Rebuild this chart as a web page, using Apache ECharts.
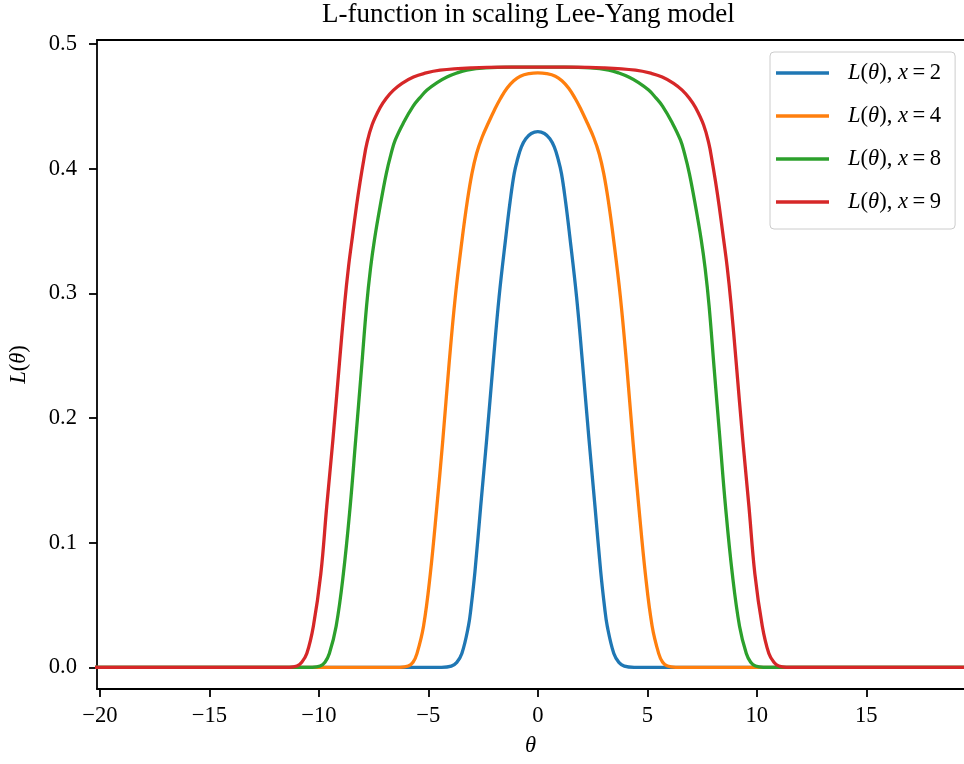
<!DOCTYPE html>
<html><head><meta charset="utf-8">
<script src="https://cdn.jsdelivr.net/npm/echarts@6/dist/echarts.min.js"></script>
<style>html,body{margin:0;padding:0;background:#fff}#c{width:964px;height:764px}</style>
</head><body><div id="c"></div>
<script>
// ---- data ----
const seriesNames = ['x=2', 'x=4', 'x=8', 'x=9'];
const seriesColors = ['#1f77b4', '#ff7f0e', '#2ca02c', '#d62728'];

const thetaX2 = [-20.5, -4.4, -3.95, -3.70, -3.47, -3.17, -3.05, -2.87, -2.61, -2.33, -2.04, -1.77, -1.45, -1.27, -1.08, -0.92, -0.75, -0.55, -0.3, 0,
                 0.3, 0.55, 0.75, 0.92, 1.08, 1.27, 1.45, 1.77, 2.04, 2.33, 2.61, 2.87, 3.05, 3.17, 3.47, 3.70, 3.95, 4.4, 20.5];
const valueX2 = [0, 0, 0.001, 0.004, 0.011, 0.033, 0.048, 0.077, 0.129, 0.184, 0.244, 0.297, 0.347, 0.373, 0.396, 0.408, 0.4175, 0.4240, 0.4282, 0.4297,
                 0.4282, 0.4240, 0.4175, 0.408, 0.396, 0.373, 0.347, 0.297, 0.244, 0.184, 0.129, 0.077, 0.048, 0.033, 0.011, 0.004, 0.001, 0, 0];

const thetaX4 = [-20.5, -6.3, -5.92, -5.70, -5.52, -5.22, -4.91, -4.61, -4.34, -4.05, -3.77, -3.46, -3.22, -3.01, -2.80, -2.55, -2.25, -1.97, -1.70, -1.41, -1.10, -0.8, -0.4, 0,
                 0.4, 0.8, 1.10, 1.41, 1.70, 1.97, 2.25, 2.55, 2.80, 3.01, 3.22, 3.46, 3.77, 4.05, 4.34, 4.61, 4.91, 5.22, 5.52, 5.70, 5.92, 6.3, 20.5];
const valueX4 = [0, 0, 0.001, 0.004, 0.011, 0.033, 0.075, 0.129, 0.182, 0.244, 0.297, 0.343, 0.374, 0.396, 0.412, 0.425, 0.437, 0.4475, 0.4565, 0.4645, 0.4705, 0.4742, 0.4762, 0.4768,
                 0.4762, 0.4742, 0.4705, 0.4645, 0.4565, 0.4475, 0.437, 0.425, 0.412, 0.396, 0.374, 0.343, 0.297, 0.244, 0.182, 0.129, 0.075, 0.033, 0.011, 0.004, 0.001, 0, 0];

const thetaX8 = [-20.5, -10.3, -9.94, -9.72, -9.52, -9.21, -8.88, -8.57, -8.32, -8.05, -7.82, -7.64, -7.46, -7.20, -6.92, -6.70, -6.51, -6.13, -5.70, -5.38, -5.06, -4.6, -4.15, -3.7, -3.24, -2.4, -1.2, 0,
                 1.2, 2.4, 3.24, 3.7, 4.15, 4.6, 5.06, 5.38, 5.70, 6.13, 6.51, 6.70, 6.92, 7.20, 7.46, 7.64, 7.82, 8.05, 8.32, 8.57, 8.88, 9.21, 9.52, 9.72, 9.94, 10.3, 20.5];
const valueX8 = [0, 0, 0.001, 0.004, 0.011, 0.033, 0.075, 0.129, 0.182, 0.240, 0.290, 0.320, 0.343, 0.370, 0.396, 0.412, 0.423, 0.437, 0.450, 0.457, 0.463, 0.469, 0.4735, 0.4767, 0.4790, 0.4808, 0.4814, 0.4814,
                 0.4814, 0.4808, 0.4790, 0.4767, 0.4735, 0.469, 0.463, 0.457, 0.450, 0.437, 0.423, 0.412, 0.396, 0.370, 0.343, 0.320, 0.290, 0.240, 0.182, 0.129, 0.075, 0.033, 0.011, 0.004, 0.001, 0, 0];

const thetaX9 = [-20.5, -11.35, -11.0, -10.78, -10.55, -10.25, -9.91, -9.64, -9.36, -9.06, -8.82, -8.64, -8.47, -8.28, -8.11, -7.95, -7.81, -7.57, -7.20, -6.92, -6.59, -6.2, -5.68, -5.21, -4.46, -3.0, -1.5, 0,
                 1.5, 3.0, 4.46, 5.21, 5.68, 6.2, 6.59, 6.92, 7.20, 7.57, 7.81, 7.95, 8.11, 8.28, 8.47, 8.64, 8.82, 9.06, 9.36, 9.64, 9.91, 10.25, 10.55, 10.78, 11.0, 11.35, 20.5];
const valueX9 = [0, 0, 0.001, 0.004, 0.011, 0.033, 0.075, 0.129, 0.182, 0.244, 0.292, 0.322, 0.345, 0.370, 0.390, 0.407, 0.420, 0.435, 0.449, 0.4565, 0.4630, 0.4685, 0.4735, 0.4763, 0.4790, 0.4809, 0.4814, 0.4814,
                 0.4814, 0.4809, 0.4790, 0.4763, 0.4735, 0.4685, 0.4630, 0.4565, 0.449, 0.435, 0.420, 0.407, 0.390, 0.370, 0.345, 0.322, 0.292, 0.244, 0.182, 0.129, 0.075, 0.033, 0.011, 0.004, 0.001, 0, 0];

const xTickValues = [-20, -15, -10, -5, 0, 5, 10, 15];
const yTickValues = [0, 0.1, 0.2, 0.3, 0.4, 0.5];
const xRange = [-20.13, 19.46];
const yRange = [-0.0174, 0.5032];

// ---- chart ----
const thetas = [thetaX2, thetaX4, thetaX8, thetaX9];
const values = [valueX2, valueX4, valueX8, valueX9];
const FONT = 'Liberation Serif';
const FS = 22.6;

const chart = echarts.init(document.getElementById('c'), null, {renderer: 'canvas'});

const series = seriesNames.map((name, i) => ({
  name: name,
  type: 'line',
  data: thetas[i].map((t, k) => [t, values[i][k]]),
  symbol: 'none',
  showSymbol: false,
  smooth: 0.4,
  clip: true,
  color: seriesColors[i],
  lineStyle: {width: 3.3, color: seriesColors[i], cap: 'round', join: 'round'},
  z: 2 + i
}));

const axisBlack = {lineStyle: {color: '#000', width: 1.8}};

chart.setOption({
  animation: false,
  backgroundColor: '#fff',
  title: {
    text: 'L-function in scaling Lee-Yang model',
    left: 322, top: 1, padding: 0,
    textStyle: {fontFamily: FONT, fontSize: 27, fontWeight: 'normal', color: '#000'}
  },
  grid: {left: 97, top: 40, right: 0, bottom: 75, containLabel: false},
  legend: {
    orient: 'vertical',
    left: 770, top: 52,
    padding: [8, 14, 14, 6],
    icon: 'rect',
    itemWidth: 53, itemHeight: 3.3, itemGap: 17,
    backgroundColor: 'rgba(255,255,255,0.8)',
    borderColor: '#cccccc', borderWidth: 1, borderRadius: 4,
    data: seriesNames,
    formatter: function (n) {
      return '{i|L}({i|\u03b8}), {i|x}\u2009=\u2009' + n.split('=')[1];
    },
    textStyle: {
      fontFamily: FONT, fontSize: FS, color: '#000', lineHeight: 26,
      padding: [0, 0, 0, 14],
      rich: {i: {fontFamily: FONT, fontSize: FS, fontStyle: 'italic', color: '#000', lineHeight: 26}}
    }
  },
  xAxis: [{
    type: 'value', min: xRange[0], max: xRange[1],
    position: 'bottom',
    name: '\u03b8', nameLocation: 'middle', nameGap: 46,
    nameTextStyle: {fontFamily: FONT, fontSize: FS, fontStyle: 'italic', color: '#000'},
    axisLine: Object.assign({show: true, onZero: false}, axisBlack),
    axisTick: {show: true, inside: false, length: 8, lineStyle: {color: '#000', width: 1.8}, customValues: xTickValues},
    axisLabel: {
      show: true, margin: 16, customValues: xTickValues,
      fontFamily: FONT, fontSize: FS, color: '#000',
      formatter: v => String(v).replace('-', '\u2212')
    },
    splitLine: {show: false}
  }, {
    type: 'value', min: xRange[0], max: xRange[1],
    position: 'top',
    axisLine: Object.assign({show: true, onZero: false}, axisBlack),
    axisTick: {show: false}, axisLabel: {show: false}, splitLine: {show: false}
  }],
  yAxis: {
    type: 'value', min: yRange[0], max: yRange[1],
    name: '{i|L}({i|\u03b8})', nameLocation: 'middle', nameGap: 66,
    nameTextStyle: {fontFamily: FONT, fontSize: FS, color: '#000',
      rich: {i: {fontFamily: FONT, fontSize: FS, fontStyle: 'italic', color: '#000'}}},
    axisLine: Object.assign({show: true, onZero: false}, axisBlack),
    axisTick: {show: true, inside: false, length: 8, lineStyle: {color: '#000', width: 1.8}, customValues: yTickValues},
    axisLabel: {
      show: true, margin: 20, customValues: yTickValues,
      fontFamily: FONT, fontSize: FS, color: '#000',
      formatter: v => v.toFixed(1)
    },
    splitLine: {show: false}
  },
  series: series
});
</script>
</body></html>
